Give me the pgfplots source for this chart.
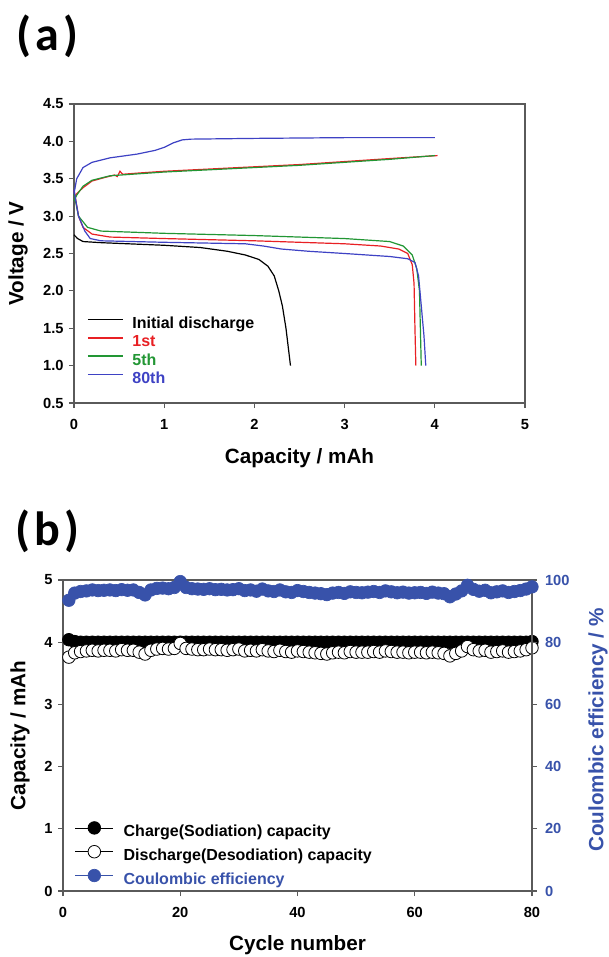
\documentclass[border=0pt]{standalone}
\usepackage{pgfplots}
\pgfplotsset{compat=1.18}
\usepackage{fontspec}
\setmainfont{Liberation Sans}
\newfontfamily\panelfont{Carlito}

\definecolor{cfirst}{RGB}{232,32,36}
\definecolor{cfifth}{RGB}{34,150,52}
\definecolor{ceighty}{RGB}{62,66,196}
\definecolor{ceblue}{RGB}{56,82,170}
\definecolor{axgray}{RGB}{90,90,90}

\tikzset{lab/.style={font=\bfseries\fontsize{15.5}{16}\selectfont}}
\pgfplotsset{
  panel/.style={
    scale only axis,
    clip=false,
    axis line style={draw=axgray,line width=0.8pt},
    tick align=outside,
    major tick length=3.75pt,
    every tick/.style={draw=axgray,line width=0.8pt},
    tick label style={font=\bfseries\fontsize{11}{11}\selectfont},
    xticklabel shift=5pt,
    yticklabel shift=0.5pt,
    /pgf/number format/assume math mode=true,
    xtick pos=bottom, ytick pos=left,
  },
}

\begin{document}
\begin{tikzpicture}
\path[use as bounding box] (0,0) rectangle (456.75pt,-717.75pt);

\node[font=\panelfont\bfseries\fontsize{36}{36}\selectfont] at (35.6pt,-27.4pt) {(\kern3pt a\kern3pt)};
\node[font=\panelfont\bfseries\fontsize{36}{36}\selectfont] at (35.6pt,-398.6pt) {(\kern3pt b\kern3pt)};

% ---------- (a) voltage profiles
\begin{axis}[panel,
  at={(55.5pt,-302.25pt)}, anchor=south west,
  width=338.25pt, height=224.25pt,
  xmin=0, xmax=5, ymin=0.5, ymax=4.5,
  xtick={0,1,2,3,4,5},
  ytick={0.5,1,1.5,2,2.5,3,3.5,4,4.5},
  yticklabel style={/pgf/number format/.cd,fixed,fixed zerofill,precision=1},
  xlabel={Capacity / mAh}, ylabel={Voltage / V},
  every axis x label/.style={at={(axis description cs:0.5,-0.184)},anchor=center,lab},
  every axis y label/.style={at={(axis description cs:-0.124,0.5)},rotate=90,anchor=center,lab},
  legend cell align=left,
  legend style={at={(axis description cs:0.0288,0.289)},anchor=north west,draw=none,fill=none,
    inner sep=0pt,outer sep=0pt,
    font=\bfseries\fontsize{12}{12}\selectfont,row sep=2.2pt,
    nodes={inner sep=0pt,text height=9pt,text depth=2.5pt}},
  legend image code/.code={\draw[#1,line width=1.2pt] (0pt,3.5pt) -- (26.25pt,3.5pt);\path (33pt,3.5pt);},
  every axis plot/.append style={line width=0.9pt},
]
\addplot[black] coordinates {
(0,2.75) (0.04,2.70) (0.1,2.66) (0.3,2.645) (0.6,2.63) (1.0,2.61) (1.4,2.58)
(1.7,2.53) (1.9,2.48) (2.05,2.42) (2.15,2.33) (2.22,2.2) (2.27,2.0)
(2.31,1.8) (2.35,1.5) (2.38,1.2) (2.40,1.0)};
\addlegendentry{Initial discharge}

\addplot[cfirst] coordinates {
(0,3.25) (0.03,3.3) (0.1,3.38) (0.2,3.47) (0.35,3.52) (0.45,3.55) (0.48,3.53)
(0.51,3.60) (0.54,3.56) (0.7,3.575) (1,3.6) (1.5,3.63) (2,3.66) (2.5,3.69)
(3,3.73) (3.5,3.77) (4.03,3.81)};
\addlegendentry{\textcolor{cfirst}{1st}}
\addplot[cfirst,forget plot] coordinates {
(0,3.35) (0.05,3.0) (0.1,2.85) (0.2,2.76) (0.4,2.72) (1,2.70) (2,2.67) (3,2.63)
(3.4,2.60) (3.6,2.56) (3.7,2.50) (3.75,2.35) (3.77,2.1) (3.78,1.5) (3.79,1.0)};

\addplot[cfifth] coordinates {
(0,3.2) (0.03,3.28) (0.1,3.4) (0.2,3.48) (0.4,3.54) (1,3.59) (1.5,3.62) (2,3.65)
(2.5,3.68) (3,3.72) (3.5,3.76) (4.0,3.81)};
\addlegendentry{\textcolor{cfifth}{5th}}
\addplot[cfifth,forget plot] coordinates {
(0,3.3) (0.05,3.0) (0.15,2.85) (0.3,2.8) (1,2.77) (2,2.74) (3,2.70) (3.5,2.66)
(3.65,2.6) (3.75,2.48) (3.8,2.3) (3.83,2.0) (3.84,1.5) (3.85,1.0)};

\addplot[ceighty] coordinates {
(0,3.3) (0.03,3.5) (0.1,3.65) (0.2,3.72) (0.4,3.78) (0.7,3.83) (0.9,3.88)
(1.0,3.92) (1.1,3.98) (1.2,4.02) (1.3,4.03) (2,4.04) (3,4.05) (4.0,4.05)};
\addlegendentry{\textcolor{ceighty}{80th}}
\addplot[ceighty,forget plot] coordinates {
(0,3.35) (0.05,3.0) (0.12,2.8) (0.18,2.7) (0.3,2.67) (1,2.65) (1.9,2.63)
(2.1,2.60) (2.3,2.56) (2.6,2.53) (3,2.50) (3.5,2.46) (3.7,2.43) (3.78,2.38)
(3.82,2.2) (3.85,1.8) (3.88,1.4) (3.90,1.0)};
\end{axis}

% ---------- (b) cycling, capacity axis
\begin{axis}[panel,
  at={(47.25pt,-668.25pt)}, anchor=south west,
  width=351.75pt, height=233.25pt,
  xmin=0, xmax=80, ymin=0, ymax=5,
  xtick={0,20,40,60,80}, ytick={0,1,2,3,4,5},
  xlabel={Cycle number}, ylabel={Capacity / mAh},
  every axis x label/.style={at={(axis description cs:0.5,-0.174)},anchor=center,lab},
  every axis y label/.style={at={(axis description cs:-0.0917,0.5)},rotate=90,anchor=center,lab},
]
\addplot[black,line width=0.5pt,mark=*,mark size=4.7pt,mark options={fill=black,line width=0.6pt}] coordinates {
(1,4.04) (2,4.01) (3,4.00) (4,4.00) (5,4.00) (6,4.00) (7,4.00) (8,4.00) (9,4.00) (10,4.00)
(11,4.00) (12,4.00) (13,4.00) (14,4.00) (15,4.00) (16,4.00) (17,4.00) (18,4.00) (19,4.00) (20,4.00)
(21,4.00) (22,4.00) (23,4.00) (24,4.00) (25,4.00) (26,4.00) (27,4.00) (28,4.00) (29,4.00) (30,4.00)
(31,4.00) (32,4.00) (33,4.00) (34,4.00) (35,4.00) (36,4.00) (37,4.00) (38,4.00) (39,4.00) (40,4.00)
(41,4.00) (42,4.00) (43,4.00) (44,4.00) (45,4.00) (46,4.00) (47,4.00) (48,4.00) (49,4.00) (50,4.00)
(51,4.00) (52,4.00) (53,4.00) (54,4.00) (55,4.00) (56,4.00) (57,4.00) (58,4.00) (59,4.00) (60,4.00)
(61,4.00) (62,4.00) (63,4.00) (64,4.00) (65,4.00) (66,4.00) (67,4.00) (68,4.00) (69,4.00) (70,4.00)
(71,4.00) (72,4.00) (73,4.00) (74,4.00) (75,4.00) (76,4.00) (77,4.00) (78,4.00) (79,4.00) (80,4.01)};
\addplot[black,line width=0.5pt,mark=*,mark size=4.7pt,mark options={fill=white,draw=black,line width=0.6pt}] coordinates {
(1,3.76) (2,3.83) (3,3.85) (4,3.86) (5,3.87) (6,3.86) (7,3.87) (8,3.87) (9,3.86) (10,3.88)
(11,3.87) (12,3.87) (13,3.84) (14,3.81) (15,3.87) (16,3.89) (17,3.90) (18,3.89) (19,3.90) (20,3.98)
(21,3.90) (22,3.89) (23,3.88) (24,3.88) (25,3.89) (26,3.88) (27,3.88) (28,3.87) (29,3.88) (30,3.89)
(31,3.86) (32,3.87) (33,3.86) (34,3.88) (35,3.86) (36,3.85) (37,3.87) (38,3.85) (39,3.84) (40,3.86)
(41,3.85) (42,3.84) (43,3.83) (44,3.82) (45,3.81) (46,3.83) (47,3.84) (48,3.83) (49,3.85) (50,3.84)
(51,3.84) (52,3.84) (53,3.85) (54,3.84) (55,3.86) (56,3.85) (57,3.84) (58,3.84) (59,3.83) (60,3.84)
(61,3.84) (62,3.83) (63,3.84) (64,3.83) (65,3.82) (66,3.78) (67,3.82) (68,3.86) (69,3.93) (70,3.88)
(71,3.86) (72,3.87) (73,3.84) (74,3.85) (75,3.86) (76,3.84) (77,3.85) (78,3.86) (79,3.88) (80,3.91)};
\end{axis}

% ---------- (b) coulombic efficiency axis
\begin{axis}[panel,
  at={(47.25pt,-668.25pt)}, anchor=south west,
  width=351.75pt, height=233.25pt,
  xmin=0, xmax=80, ymin=0, ymax=100,
  axis x line=none, axis y line*=right, ytick pos=right,
  ytick={0,20,40,60,80,100},
  yticklabel shift=2.5pt,
  yticklabel style={text=ceblue},
  ylabel={Coulombic efficiency / \%},
  every axis y label/.style={at={(axis description cs:1.141,0.518)},rotate=90,anchor=center,text=ceblue,lab},
  legend cell align=left,
  legend style={at={(axis description cs:0.0256,0.223)},anchor=north west,draw=none,fill=none,
    inner sep=0pt,outer sep=0pt,
    font=\bfseries\fontsize{12}{12}\selectfont,row sep=3.9pt,
    nodes={inner sep=0pt,text height=9pt,text depth=2.5pt}},
  legend image code/.code={\draw[mark repeat=2,mark phase=2,#1] plot coordinates {(0pt,3.5pt) (14.25pt,3.5pt) (28.5pt,3.5pt)};\path (36pt,3.5pt);},
]
\addlegendimage{black,line width=0.5pt,mark=*,mark size=4.7pt,mark options={fill=black,line width=0.6pt}}
\addlegendentry{Charge(Sodiation) capacity}
\addlegendimage{black,line width=0.5pt,mark=*,mark size=4.7pt,mark options={fill=white,draw=black,line width=0.6pt}}
\addlegendentry{Discharge(Desodiation) capacity}
\addplot[ceblue,line width=0.5pt,mark=*,mark size=4.7pt,mark options={fill=ceblue,draw=ceblue}] coordinates {
(1,93.5) (2,95.8) (3,96.3) (4,96.5) (5,96.8) (6,96.6) (7,96.7) (8,96.8) (9,96.6) (10,96.9)
(11,96.7) (12,96.8) (13,96.0) (14,95.2) (15,96.8) (16,97.3) (17,97.4) (18,97.2) (19,97.6) (20,99.5)
(21,97.6) (22,97.2) (23,97.1) (24,97.0) (25,97.2) (26,96.9) (27,97.0) (28,96.8) (29,96.9) (30,97.2)
(31,96.6) (32,96.8) (33,96.4) (34,97.1) (35,96.5) (36,96.3) (37,96.8) (38,96.2) (39,96.0) (40,96.6)
(41,96.3) (42,96.0) (43,95.8) (44,95.6) (45,95.3) (46,95.8) (47,96.0) (48,95.7) (49,96.2) (50,96.0)
(51,95.9) (52,96.1) (53,96.3) (54,96.0) (55,96.5) (56,96.2) (57,95.9) (58,96.1) (59,95.8) (60,95.9)
(61,96.0) (62,95.7) (63,96.1) (64,95.8) (65,95.6) (66,94.6) (67,95.5) (68,96.5) (69,98.3) (70,97.0)
(71,96.4) (72,96.7) (73,95.9) (74,96.2) (75,96.5) (76,96.0) (77,96.3) (78,96.6) (79,97.1) (80,97.8)};
\addlegendentry{\textcolor{ceblue}{Coulombic efficiency}}
\end{axis}
\end{tikzpicture}
\end{document}
